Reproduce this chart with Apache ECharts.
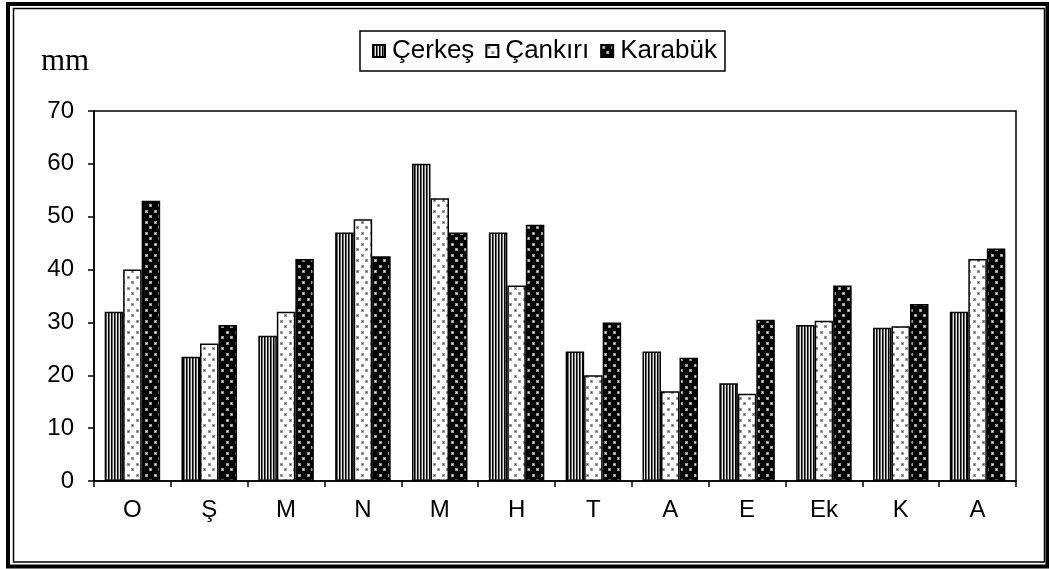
<!DOCTYPE html>
<html>
<head>
<meta charset="utf-8">
<script src="https://cdn.jsdelivr.net/npm/echarts@6/dist/echarts.min.js"></script>
<style>
  html, body { margin: 0; padding: 0; background: #fff; }
  #chart { width: 1049px; height: 569px; }
</style>
</head>
<body>
<div id="chart"></div>
<script>
  // aylar
  var months = ['O', 'Ş', 'M', 'N', 'M', 'H', 'T', 'A', 'E', 'Ek', 'K', 'A'];
  var yTicks = [0, 10, 20, 30, 40, 50, 60, 70];

  var cerkes  = [32, 23.5, 27.5, 47, 60, 47, 24.5, 24.5, 18.5, 29.5, 29, 32];
  var cankiri = [40, 26, 32, 49.5, 53.5, 37, 20, 17, 16.5, 30.3, 29.3, 42];
  var karabuk = [53, 29.5, 42, 42.5, 47, 48.5, 30, 23.3, 30.5, 37, 33.5, 44];

  // desen (pattern) kanvaslari
  function stripes() {
    var c = document.createElement('canvas');
    c.width = 3; c.height = 4;
    var g = c.getContext('2d');
    g.fillStyle = '#e6e6e6'; g.fillRect(0, 0, 3, 4);
    g.fillStyle = '#000'; g.fillRect(0, 0, 1, 4);
    g.fillStyle = '#666'; g.fillRect(1, 0, 1, 4);
    return c;
  }
  function dots(bg, halo, core) {
    var c = document.createElement('canvas');
    c.width = 9; c.height = 11;
    var g = c.getContext('2d');
    g.fillStyle = bg; g.fillRect(0, 0, 9, 11);
    [[1, 1], [5, 6]].forEach(function (p) {
      g.fillStyle = halo; g.fillRect(p[0], p[1], 3, 3);
      g.fillStyle = core; g.fillRect(p[0] + 1, p[1] + 1, 1, 1);
    });
    return c;
  }

  var chart = echarts.init(document.getElementById('chart'));
  var font = 'Liberation Sans, Arial, sans-serif';

  function bar(name, data, img) {
    return {
      name: name,
      type: 'bar',
      data: data,
      barWidth: 18.5,
      barGap: '0%',
      silent: true,
      itemStyle: {
        color: { image: img, repeat: 'repeat' },
        borderColor: '#000',
        borderWidth: 1.5
      }
    };
  }

  var option = {
    animation: false,
    title: {
      text: 'mm',
      left: 36, top: 41,
      textStyle: { fontFamily: 'Liberation Serif, Times New Roman, serif', fontSize: 31, fontWeight: 'normal', color: '#000' }
    },
    legend: {
      left: 360, top: 31,
      padding: [7, 8, 7, 12],
      borderColor: '#000',
      borderWidth: 1.5,
      itemWidth: 12, itemHeight: 12,
      itemGap: 11,
      icon: 'rect',
      textStyle: { fontFamily: font, fontSize: 26, color: '#000', padding: [0, 0, 0, 2] },
      data: ['Çerkeş', 'Çankırı', 'Karabük']
    },
    grid: {
      left: 94, right: 33, top: 111, bottom: 88,
      show: true, borderColor: '#000', borderWidth: 1.5
    },
    xAxis: {
      type: 'category',
      data: months,
      axisLine: { lineStyle: { color: '#000', width: 1.5 } },
      axisTick: { show: true, length: 6, lineStyle: { color: '#000', width: 1.5 } },
      axisLabel: { color: '#000', fontFamily: font, fontSize: 24, margin: 17 }
    },
    yAxis: {
      type: 'value',
      min: yTicks[0], max: yTicks[yTicks.length - 1], interval: 10,
      splitLine: { show: false },
      axisLine: { show: true, lineStyle: { color: '#000', width: 1.5 } },
      axisTick: { show: true, length: 6, lineStyle: { color: '#000', width: 1.5 } },
      axisLabel: { color: '#000', fontFamily: font, fontSize: 24, margin: 20 }
    },
    series: [
      bar('Çerkeş', cerkes, stripes()),
      bar('Çankırı', cankiri, dots('#fff', '#9a9a9a', '#4a4a4a')),
      bar('Karabük', karabuk, dots('#000', '#9a9a9a', '#ffffff'))
    ],
    graphic: [
      { type: 'rect', silent: true, shape: { x: 8, y: 4, width: 1039.5, height: 562.5 },
        style: { fill: null, stroke: '#000', lineWidth: 4 } },
      { type: 'rect', silent: true, shape: { x: 13.5, y: 8.5, width: 1031, height: 553.5 },
        style: { fill: null, stroke: '#000', lineWidth: 1.5 } }
    ]
  };

  chart.setOption(option);
</script>
</body>
</html>
